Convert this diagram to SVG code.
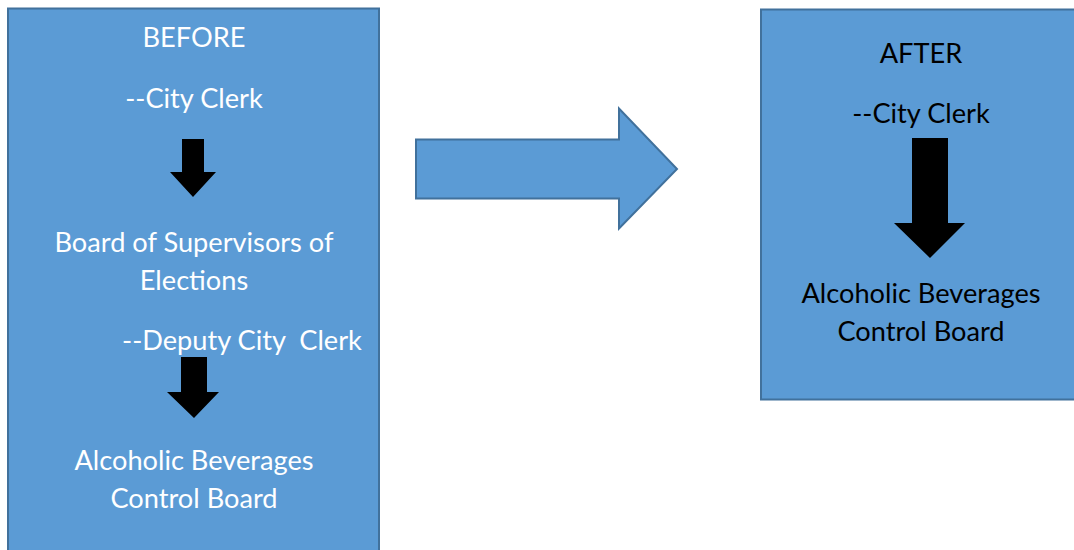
<svg xmlns="http://www.w3.org/2000/svg" width="1074" height="550" viewBox="0 0 1074 550">
<style>
.box{fill:#5B9BD5;stroke:#41719C;stroke-width:2}
.t{font-family:Lato,"Open Sans","Liberation Sans",sans-serif;font-size:27.2px;text-anchor:middle}
.w{fill:#FFFFFF}
.k{fill:#000000}
.dn{fill:#000000}
</style>
<rect width="1074" height="550" fill="#FFFFFF"/>
<g id="before">
<rect class="box" x="8" y="8.5" width="371" height="560"/>
<text class="t w" x="194" y="47">BEFORE</text>
<text class="t w" x="194" y="108">--City Clerk</text>
<text class="t w" x="194" y="252">Board of Supervisors of</text>
<text class="t w" x="194" y="290">Elections</text>
<text class="t w" x="242" y="350" xml:space="preserve">--Deputy City  Clerk</text>
<text class="t w" x="194" y="470">Alcoholic Beverages</text>
<text class="t w" x="194" y="508">Control Board</text>
</g>
<g id="after">
<rect class="box" x="761" y="9.5" width="330" height="390"/>
<text class="t k" x="921" y="63">AFTER</text>
<text class="t k" x="921" y="123">--City Clerk</text>
<text class="t k" x="921" y="303">Alcoholic Beverages</text>
<text class="t k" x="921" y="341">Control Board</text>
</g>
<g id="connectors">
<polygon class="dn" points="182,139 204,139 204,172 216,172 193,197 170,172 182,172"/>
<polygon class="dn" points="181,357 207,357 207,392 219,392 194,418 167,392 181,392"/>
<polygon class="dn" points="912,138 948,138 948,223 965,223 930,258 894,223 912,223"/>
<polygon class="box" points="416,139.5 619,139.5 619,108.5 677,169 619,228.5 619,198.5 416,198.5"/>
</g>
</svg>
